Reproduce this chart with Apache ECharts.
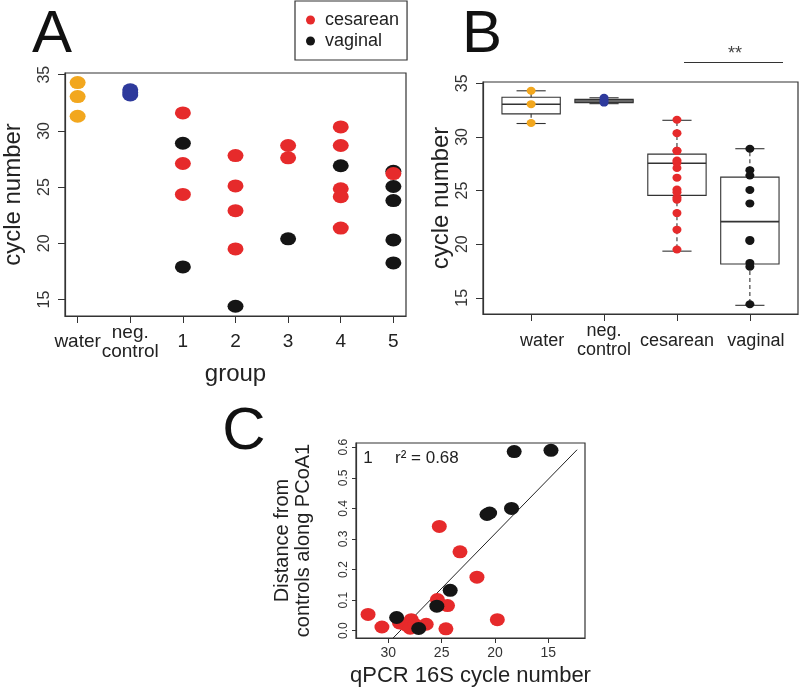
<!DOCTYPE html>
<html>
<head>
<meta charset="utf-8">
<script src="https://cdn.jsdelivr.net/npm/echarts@6/dist/echarts.min.js"></script>
<style>
html,body{margin:0;padding:0;background:#fff;}
#chart{width:800px;height:691px;}
</style>
</head>
<body>
<div id="chart"></div>
<script>
// ---------- Panel A data ----------
const groupLabels = ['water', 'neg.\ncontrol', '1', '2', '3', '4', '5'];
const waterVals = [34.3, 33.05, 31.3];
const negVals = [33.2, 33.4, 33.65];
const cesareanByGroup = [
  [31.6, 27.1, 24.35],
  [27.8, 25.1, 22.9, 19.5],
  [28.7, 27.6],
  [30.35, 28.7, 24.85, 24.15, 21.35],
  [26.2]
];
const vaginalByGroup = [
  [28.9, 17.9],
  [14.4],
  [20.4],
  [26.9],
  [26.4, 25.05, 23.8, 20.3, 18.25]
];
const cycleTicks = [15, 20, 25, 30, 35];

// ---------- Panel B data ----------
const boxLabels = ['water', 'neg.\ncontrol', 'cesarean', 'vaginal'];
// [min, Q1, median, Q3, max]
const boxStats = [
  [31.25, 32.15, 33.05, 33.7, 34.3],
  [33.1, 33.2, 33.35, 33.5, 33.65],
  [19.35, 24.55, 27.55, 28.4, 31.55],
  [14.3, 18.15, 22.1, 26.25, 28.9]
];

// ---------- Panel C data ----------
const cesareanC = [
  [31.9, 0.053], [30.6, 0.012], [28.95, 0.025], [28.4, 0.02], [27.85, 0.036],
  [27.95, 0.008], [27.5, 0.02], [26.45, 0.021], [24.6, 0.006], [25.4, 0.102],
  [24.45, 0.082], [25.22, 0.341], [23.28, 0.258], [21.69, 0.175], [19.78, 0.036]
];
const vaginalC = [
  [29.22, 0.043], [27.15, 0.007], [25.45, 0.08], [24.2, 0.132], [20.75, 0.38],
  [20.5, 0.385], [18.45, 0.40], [18.2, 0.586], [14.75, 0.59]
];
const fitLine = [[29.55, -0.024], [12.3, 0.592]];
const cXTicks = [15, 20, 25, 30];
const cYTicks = [0, 0.1, 0.2, 0.3, 0.4, 0.5, 0.6];

// ---------- colours ----------
const ORANGE = '#F2A71E', BLUE = '#2E3A9C', RED = '#E62A2B', BLACK = '#151515';
const FONT = 'Liberation Sans, Arial, sans-serif';
const AX = '#333';

// ---------- build series data ----------
const waterA = waterVals.map(v => [1, v]);
const negA = negVals.map(v => [2, v]);
const cesA = [], vagA = [];
cesareanByGroup.forEach((arr, g) => arr.forEach(v => cesA.push([g + 3, v])));
vaginalByGroup.forEach((arr, g) => arr.forEach(v => vagA.push([g + 3, v])));

const waterB = waterVals.map(v => [1, v]);
const negB = negVals.map(v => [2, v]);
const cesB = [].concat(...cesareanByGroup).map(v => [3, v]);
const vagB = [].concat(...vaginalByGroup).map(v => [4, v]);
const boxData = boxStats.map((s, i) => [i + 1].concat(s));

const chart = echarts.init(document.getElementById('chart'), null, {renderer: 'canvas'});

function gridCfg(l, t, w, h) {
  return {left: l, top: t, width: w, height: h, show: true, borderColor: AX, borderWidth: 1.2,
          backgroundColor: 'transparent'};
}

const option = {
  animation: false,
  textStyle: {fontFamily: FONT},
  grid: [
    gridCfg(64, 73, 342, 243),
    gridCfg(483, 82, 315, 232),
    gridCfg(356, 443, 229, 195)
  ],
  legend: {
    data: ['cesarean', 'vaginal'],
    orient: 'vertical',
    left: 295, top: 1,
    padding: [10, 8, 10, 11],
    itemGap: 3,
    itemWidth: 9, itemHeight: 9,
    icon: 'circle',
    borderColor: AX, borderWidth: 1.2,
    selectedMode: false,
    textStyle: {fontSize: 18, color: '#222', fontFamily: FONT, padding: [0, 0, 0, 5]}
  },
  xAxis: [
    {
      gridIndex: 0, type: 'value', min: 0.76, max: 7.24,
      name: 'group', nameLocation: 'middle', nameGap: 44,
      nameTextStyle: {fontSize: 24, color: '#222', fontFamily: FONT},
      axisLine: {show: true, onZero: false, lineStyle: {color: AX, width: 1.2}},
      axisTick: {show: true, length: 7, lineStyle: {color: AX}, customValues: [1, 2, 3, 4, 5, 6, 7]},
      axisLabel: {customValues: [1, 2, 3, 4, 5, 6, 7], fontSize: 19, color: '#222', margin: 26,
                  verticalAlign: 'middle', lineHeight: 19, hideOverlap: false,
                  formatter: v => groupLabels[Math.round(v) - 1]},
      splitLine: {show: false}
    },
    {
      gridIndex: 1, type: 'value', min: 0.34, max: 4.66,
      axisLine: {show: true, onZero: false, lineStyle: {color: AX, width: 1.2}},
      axisTick: {show: true, length: 7, lineStyle: {color: AX}, customValues: [1, 2, 3, 4]},
      axisLabel: {customValues: [1, 2, 3, 4], fontSize: 18, color: '#222', margin: 27,
                  verticalAlign: 'middle', lineHeight: 19, hideOverlap: false,
                  showMinLabel: true, showMaxLabel: true,
                  formatter: v => {
                    const i = Math.round(v) - 1;
                    if (i === 0) return '{w|' + boxLabels[i] + '}';
                    if (i === 3) return '{v|' + boxLabels[i] + '}';
                    return boxLabels[i];
                  },
                  rich: {
                    w: {fontSize: 18, color: '#222', fontFamily: FONT, padding: [0, 0, 0, 22]},
                    v: {fontSize: 18, color: '#222', fontFamily: FONT, padding: [0, 0, 0, 12]}
                  }},
      splitLine: {show: false}
    },
    {
      gridIndex: 2, type: 'value', min: 11.56, max: 33.03, inverse: true,
      name: 'qPCR 16S cycle number', nameLocation: 'middle', nameGap: 27,
      nameTextStyle: {fontSize: 22, color: '#222', fontFamily: FONT},
      axisLine: {show: true, onZero: false, lineStyle: {color: AX, width: 1.2}},
      axisTick: {show: true, length: 5, lineStyle: {color: AX}, customValues: cXTicks},
      axisLabel: {customValues: cXTicks, fontSize: 14, color: '#333', margin: 8},
      splitLine: {show: false}
    }
  ],
  yAxis: [
    {
      gridIndex: 0, type: 'value', min: 13.53, max: 35.15,
      name: 'cycle number', nameLocation: 'middle', nameGap: 40, nameRotate: 90,
      nameTextStyle: {fontSize: 24, color: '#222', fontFamily: FONT},
      axisLine: {show: true, onZero: false, lineStyle: {color: AX, width: 1.2}},
      axisTick: {show: true, length: 7, lineStyle: {color: AX}, customValues: cycleTicks},
      axisLabel: {customValues: cycleTicks, fontSize: 16, color: '#333', rotate: 90, margin: 12},
      splitLine: {show: false}
    },
    {
      gridIndex: 1, type: 'value', min: 13.49, max: 35.12,
      name: 'cycle number', nameLocation: 'middle', nameGap: 30, nameRotate: 90,
      nameTextStyle: {fontSize: 24, color: '#222', fontFamily: FONT},
      axisLine: {show: true, onZero: false, lineStyle: {color: AX, width: 1.2}},
      axisTick: {show: true, length: 7, lineStyle: {color: AX}, customValues: cycleTicks},
      axisLabel: {customValues: cycleTicks, fontSize: 16, color: '#333', rotate: 90, margin: 12},
      splitLine: {show: false}
    },
    {
      gridIndex: 2, type: 'value', min: -0.024, max: 0.614,
      name: 'Distance from\ncontrols along PCoA1', nameLocation: 'middle', nameGap: 42, nameRotate: 90,
      nameTextStyle: {fontSize: 20, color: '#222', fontFamily: FONT, lineHeight: 21},
      axisLine: {show: true, onZero: false, lineStyle: {color: AX, width: 1.2}},
      axisTick: {show: true, length: 4, lineStyle: {color: AX}, customValues: cYTicks},
      axisLabel: {customValues: cYTicks, fontSize: 12, color: '#333', rotate: 90, margin: 6,
                  formatter: v => v.toFixed(1)},
      splitLine: {show: false}
    }
  ],
  series: [
    // Panel A
    {type: 'scatter', name: 'water', xAxisIndex: 0, yAxisIndex: 0, data: waterA,
     symbolSize: [16, 13], itemStyle: {color: ORANGE, opacity: 1}},
    {type: 'scatter', name: 'neg', xAxisIndex: 0, yAxisIndex: 0, data: negA,
     symbolSize: [16, 13], itemStyle: {color: BLUE, opacity: 1}},
    {type: 'scatter', name: 'vaginal', xAxisIndex: 0, yAxisIndex: 0, data: vagA,
     symbolSize: [16, 13], itemStyle: {color: BLACK, opacity: 1}},
    {type: 'scatter', name: 'cesarean', xAxisIndex: 0, yAxisIndex: 0, data: cesA,
     symbolSize: [16, 13], itemStyle: {color: RED, opacity: 1}},
    // Panel B boxes
    {type: 'custom', name: 'boxes', xAxisIndex: 1, yAxisIndex: 1, data: boxData,
     encode: {x: 0, y: [1, 2, 3, 4, 5]}, z: 1,
     renderItem: function (params, api) {
       const x = api.value(0);
       const mn = api.value(1), q1 = api.value(2), md = api.value(3), q3 = api.value(4), mx = api.value(5);
       const half = api.size([0.4, 0])[0];
       const capHalf = half / 2;
       const pMin = api.coord([x, mn]), pQ1 = api.coord([x, q1]), pMd = api.coord([x, md]);
       const pQ3 = api.coord([x, q3]), pMx = api.coord([x, mx]);
       const cx = pMin[0];
       const solid = {stroke: AX, lineWidth: 1.1};
       const dash = {stroke: AX, lineWidth: 1.1, lineDash: [4, 3]};
       return {type: 'group', children: [
         {type: 'line', shape: {x1: cx, y1: pQ3[1], x2: cx, y2: pMx[1]}, style: dash},
         {type: 'line', shape: {x1: cx, y1: pQ1[1], x2: cx, y2: pMin[1]}, style: dash},
         {type: 'line', shape: {x1: cx - capHalf, y1: pMx[1], x2: cx + capHalf, y2: pMx[1]}, style: solid},
         {type: 'line', shape: {x1: cx - capHalf, y1: pMin[1], x2: cx + capHalf, y2: pMin[1]}, style: solid},
         {type: 'rect', shape: {x: cx - half, y: pQ3[1], width: 2 * half, height: pQ1[1] - pQ3[1]},
          style: {stroke: AX, lineWidth: 1.1, fill: 'rgba(0,0,0,0)'}},
         {type: 'line', shape: {x1: cx - half, y1: pMd[1], x2: cx + half, y2: pMd[1]},
          style: {stroke: AX, lineWidth: 1.6}}
       ]};
     }},
    // Panel B points
    {type: 'scatter', name: 'waterB', xAxisIndex: 1, yAxisIndex: 1, data: waterB, z: 3,
     symbolSize: [9, 8], itemStyle: {color: ORANGE, opacity: 1}},
    {type: 'scatter', name: 'negB', xAxisIndex: 1, yAxisIndex: 1, data: negB, z: 3,
     symbolSize: [9, 8], itemStyle: {color: BLUE, opacity: 1}},
    {type: 'scatter', name: 'cesareanB', xAxisIndex: 1, yAxisIndex: 1, data: cesB, z: 3,
     symbolSize: [9, 8], itemStyle: {color: RED, opacity: 1}},
    {type: 'scatter', name: 'vaginalB', xAxisIndex: 1, yAxisIndex: 1, data: vagB, z: 3,
     symbolSize: [9, 8], itemStyle: {color: BLACK, opacity: 1}},
    // Panel C
    {type: 'line', name: 'fit', xAxisIndex: 2, yAxisIndex: 2, data: fitLine, symbol: 'none',
     lineStyle: {color: '#222', width: 1}, z: 1, clip: true},
    {type: 'scatter', name: 'cesareanC', xAxisIndex: 2, yAxisIndex: 2, data: cesareanC, z: 3,
     symbolSize: [15, 13], itemStyle: {color: RED, opacity: 1}},
    {type: 'scatter', name: 'vaginalC', xAxisIndex: 2, yAxisIndex: 2, data: vaginalC, z: 3,
     symbolSize: [15, 13], itemStyle: {color: BLACK, opacity: 1}}
  ],
  graphic: [
    {type: 'text', x: 52, y: 35, style: {text: 'A', font: '60px ' + FONT, fill: '#111', align: 'center', verticalAlign: 'middle'}},
    {type: 'text', x: 482, y: 35, style: {text: 'B', font: '60px ' + FONT, fill: '#111', align: 'center', verticalAlign: 'middle'}},
    {type: 'text', x: 244, y: 432, style: {text: 'C', font: '60px ' + FONT, fill: '#111', align: 'center', verticalAlign: 'middle'}},
    {type: 'text', x: 735, y: 54, style: {text: '**', font: '18px ' + FONT, fill: '#444', align: 'center', verticalAlign: 'middle'}},
    {type: 'line', shape: {x1: 684, y1: 62.5, x2: 783, y2: 62.5}, style: {stroke: '#333', lineWidth: 1.2}},
    {type: 'text', x: 368, y: 458, style: {text: '1', font: '17px ' + FONT, fill: '#222', align: 'center', verticalAlign: 'middle'}},
    {type: 'text', x: 395, y: 458, style: {text: 'r² = 0.68', font: '17px ' + FONT, fill: '#222', align: 'left', verticalAlign: 'middle'}}
  ]
};
chart.setOption(option);
</script>
</body>
</html>
